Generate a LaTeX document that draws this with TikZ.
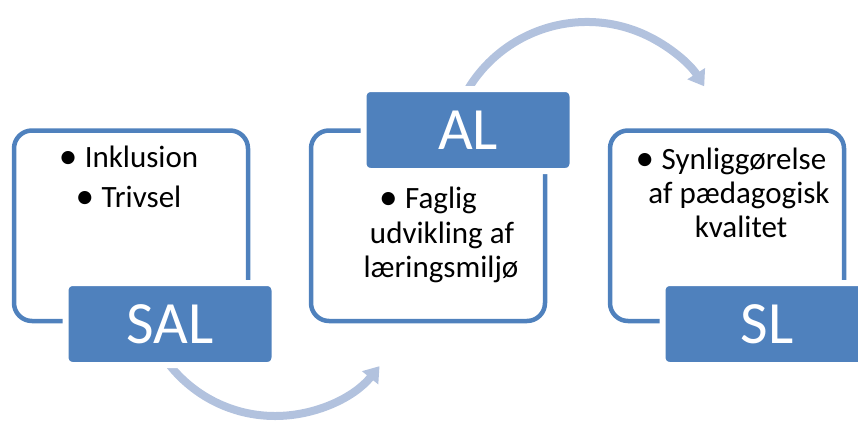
\documentclass[tikz,border=0pt]{standalone}
\usepackage{fontspec}
\usepackage{graphicx}
\setmainfont{Carlito}
\usetikzlibrary{arrows.meta,calc}
\definecolor{accent}{HTML}{4F81BD}
\definecolor{arrowblue}{RGB}{178,194,222}
\newcommand\mybullet{\llap{\makebox[26pt][l]{\raisebox{-1pt}{\scalebox{1.2}{•}}}}}
\begin{document}
\begin{tikzpicture}[x=1pt,y=-1pt,
  outbox/.style={draw=accent, line width=4.5pt, rounded corners=18pt,
    minimum width=234pt, minimum height=190.5pt, inner sep=0pt},
  tagbox/.style={fill=accent, draw=white, line width=6pt, rounded corners=7pt,
    minimum width=209pt, minimum height=82pt, text=white,
    font=\fontsize{60}{60}\selectfont, inner sep=0pt},
  bodytext/.style={anchor=base, font=\fontsize{31}{34}\selectfont, inner sep=0pt},
  cycle arrow/.style={draw=arrowblue, line width=8pt,
    -{Triangle[length=15pt,width=20pt]}}]
\useasboundingbox (0,0) rectangle (858,424);
\clip (0,0) rectangle (858,424);
% connecting arcs
\coordinate (c1) at (275,281.5);
\coordinate (c2) at (587,161);
\draw[cycle arrow] ($(c1)+(150:134.5)$) arc[start angle=150, end angle=39, radius=134.5];
\draw[cycle arrow] ($(c2)+(205:139)$) arc[start angle=205, end angle=327.5, radius=139];
% outline boxes
\node[outbox] (box1) at (131,225.75) {};
\node[outbox] (box2) at (428,225.75) {};
\node[outbox] (box3) at (727,225.75) {};
% tag boxes
\node[tagbox] (sal) at (170,324) {SAL};
\node[tagbox] (al) at (468,130) {AL};
\node[tagbox] (sl) at (767,324) {SL};
% body texts
\node[bodytext] (t1a) at (141.5,167) {\mybullet Inklusion};
\node[bodytext] (t1b) at (141.5,207) {\mybullet Trivsel};
\node[bodytext] (t2a) at (441,208) {\mybullet Faglig};
\node[bodytext] (t2b) at (442,243) {udvikling af};
\node[bodytext] (t2c) at (441,277) {læringsmiljø};
\node[bodytext] (t3a) at (744,169) {\mybullet Synliggørelse};
\node[bodytext] (t3b) at (739,203) {af pædagogisk};
\node[bodytext] (t3c) at (741,237) {kvalitet};
\end{tikzpicture}
\end{document}
